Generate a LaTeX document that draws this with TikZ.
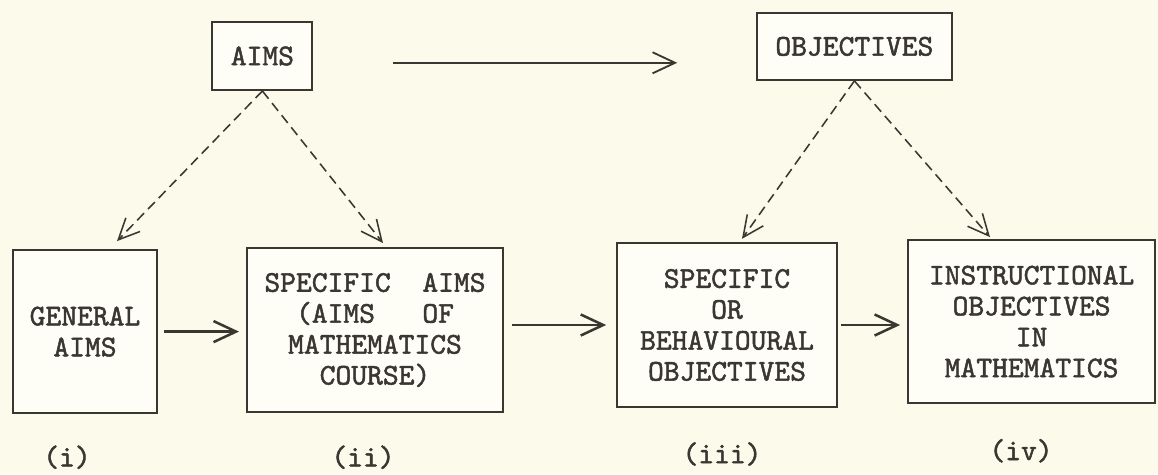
\documentclass[tikz,border=0pt]{standalone}
\usepackage{fontspec}
\newfontfamily\typewriter{lmmono10-regular.otf}[FakeBold=1.6]
\usetikzlibrary{positioning,arrows.meta}
\definecolor{paper}{RGB}{252,250,234}
\definecolor{boxfill}{RGB}{254,253,246}
\definecolor{ink}{RGB}{58,54,50}

\begin{document}
\begin{tikzpicture}[
  box/.style={draw=ink,line width=1.4pt,fill=boxfill,align=center,inner sep=0pt,
    font=\typewriter\bfseries\fontsize{21.4}{22}\selectfont,text=ink},
  flow/.style={draw=ink,line width=1.8pt,-{Straight Barb[length=16pt,width=15pt]}},
  dashflow/.style={draw=ink,line width=1.1pt,dash pattern=on 7pt off 4pt,
    -{Straight Barb[length=15pt,width=14pt]}},
  tag/.style={font=\typewriter\bfseries\fontsize{21.4}{22}\selectfont,text=ink}
]

\fill[paper] (0,0) rectangle (28.95,11.85);
\useasboundingbox (0,0) rectangle (28.95,11.85);

% top row
\node[box,minimum width=2.5cm,minimum height=1.7cm] (aims) at (6.56,10.45) {AIMS};
\node[box,minimum width=4.875cm,minimum height=1.675cm] (objectives) at (21.36,10.69) {OBJECTIVES};

\coordinate (from) at (9.83,10.28);
\coordinate (to) at (16.93,10.28);
\draw[flow,line width=1.3pt] (from) -- (to);

% bottom row
\node[box,minimum width=3.6cm,minimum height=4.075cm] (general) at (2.125,3.56) {GENERAL\\AIMS};
\node[box,minimum width=6.4cm,minimum height=4.1cm] (specaims) at (9.375,3.6) {SPECIFIC~~AIMS\\(AIMS~~~OF\\MATHEMATICS\\COURSE)};
\node[box,minimum width=5.5cm,minimum height=4.1cm] (behav) at (18.175,3.725) {SPECIFIC\\OR\\BEHAVIOURAL\\OBJECTIVES};
\node[box,minimum width=6.175cm,minimum height=4.075cm] (instr) at (25.79,3.81) {INSTRUCTIONAL\\OBJECTIVES\\IN\\MATHEMATICS};

\draw[flow,shorten <=4pt,shorten >=5pt] (general.east) -- (general.east -| specaims.west);
\draw[flow,shorten <=6pt,shorten >=7pt] (behav.west -| specaims.east) -- (behav.west);
\draw[flow,shorten <=2pt,shorten >=5pt] (behav.east) -- (behav.east -| instr.west);

% dashed links
\draw[dashflow] (aims.south) -- ([xshift=0.8cm,yshift=0.2cm]general.north);
\draw[dashflow] (aims.south) -- ([xshift=0.2cm,yshift=0.1cm]specaims.north);
\draw[dashflow] (objectives.south) -- ([xshift=0.375cm,yshift=0.08cm]behav.north);
\draw[dashflow] (objectives.south) -- ([xshift=-1.04cm,yshift=0.05cm]instr.north);

% numbering
\node[tag] (lab1) at (1.675,0.42) {(i)};
\node[tag] (lab2) at (9.075,0.42) {(ii)};
\node[tag] (lab3) at (18.05,0.5) {(iii)};
\node[tag] (lab4) at (25.525,0.58) {(iv)};

\end{tikzpicture}
\end{document}
